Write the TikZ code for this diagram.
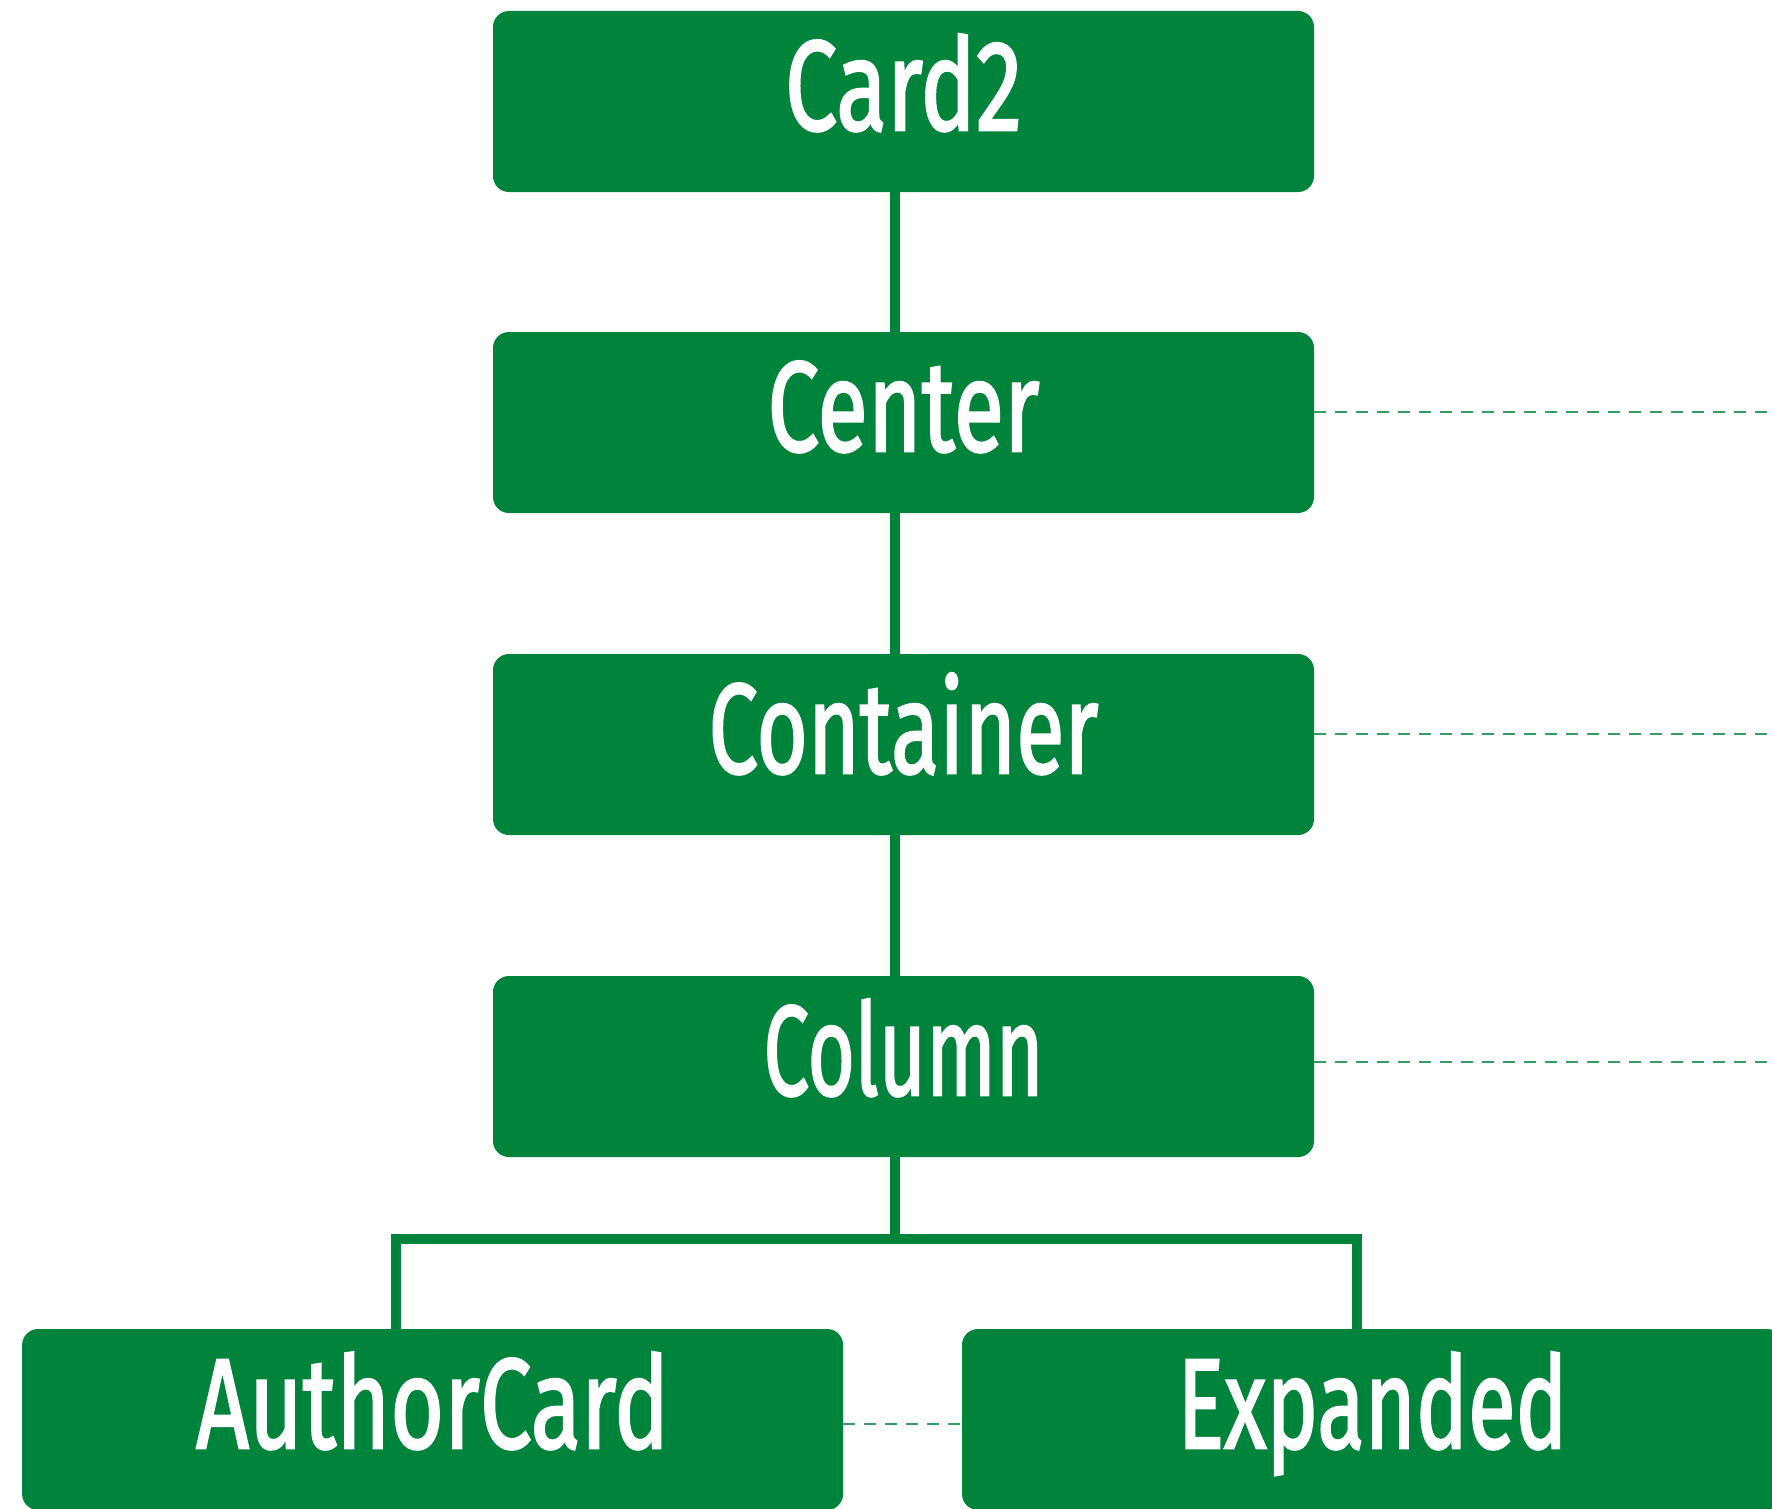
\documentclass[tikz,border=0pt]{standalone}
\usepackage{fontspec}
\setmainfont{Fira Sans}
\newfontfamily\labelfont{Fira Sans}[FakeBold=2]
\usetikzlibrary{backgrounds}
\definecolor{leafgreen}{RGB}{0,131,59}
% squeeze a word to a given width, keeping its height
\newcommand{\fitword}[2]{\resizebox{#1pt}{\height}{#2}}

\begin{document}
\begin{tikzpicture}[x=1pt,y=-1pt,
  box/.style={fill=leafgreen, rounded corners=16pt, minimum width=821pt,
    inner sep=0pt, text height=119pt, text depth=62pt, text=white,
    font=\labelfont\fontsize{128}{128}\selectfont},
  tree/.style={draw=leafgreen, line width=10pt, line join=miter},
  link/.style={draw=leafgreen!80, line width=2.6pt, dash pattern=on 12pt off 9pt}]
\useasboundingbox (0,0) rectangle (1772,1509);
\clip (0,0) rectangle (1772,1509);

% widget boxes
\node[box] (card2)      at (903.5,101.5)  {\fitword{237}{Card2}};
\node[box] (center)     at (903.5,422.5)  {\fitword{272}{Center}};
\node[box] (container)  at (903.5,744.5)  {\fitword{390}{Container}};
\node[box] (column)     at (903.5,1066.5) {\fitword{280}{Column}};
\node[box] (authorcard) at (432.6,1419.5) {\fitword{473}{AuthorCard}};
\node[box] (expanded)   at (1372.5,1419.5){\fitword{390}{Expanded}};

% helper points for the tree
\coordinate (spine) at (894.5,0);
\coordinate (fork)  at (894.5,1238.5);
\coordinate (lfork) at (396,1238.5);
\coordinate (rfork) at (1356.5,1238.5);
\coordinate (rim)   at (1772,0);

\begin{scope}[on background layer]
  % parent-child links
  \draw[tree] (card2.south -| spine) -- (center.north -| spine);
  \draw[tree] (center.south -| spine) -- (container.north -| spine);
  \draw[tree] (container.south -| spine) -- (column.north -| spine);
  \draw[tree] (column.south -| spine) -- (fork);
  \draw[tree] (authorcard.north -| lfork) -- (lfork) -- (rfork) -- (expanded.north -| rfork);

  % dashed side links
  \draw[link] ([yshift=10.5pt]center.east) -- ([yshift=10.5pt]center.east -| rim);
  \draw[link] ([yshift=10.5pt]container.east) -- ([yshift=10.5pt]container.east -| rim);
  \draw[link] ([yshift=4.5pt]column.east) -- ([yshift=4.5pt]column.east -| rim);
  \draw[link] ([yshift=-4.5pt]authorcard.east) -- ([yshift=-4.5pt]expanded.west);
\end{scope}
\end{tikzpicture}
\end{document}
